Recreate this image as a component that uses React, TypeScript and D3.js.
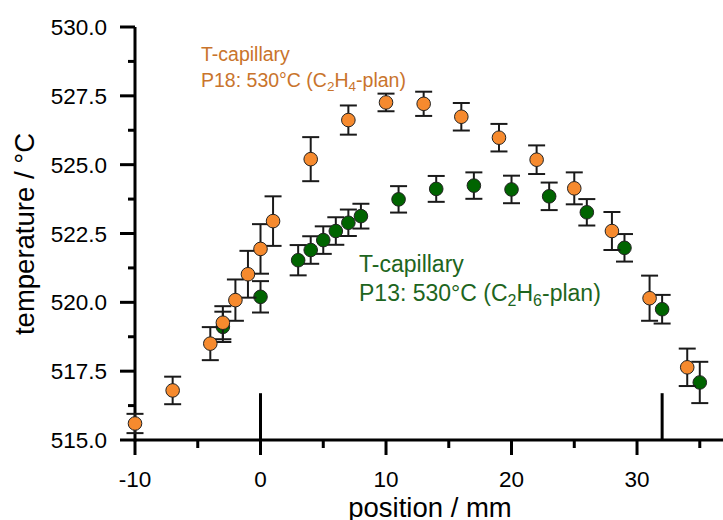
import React from "react";
import * as d3 from "d3";

const orangeX = [-10, -7, -4, -3, -2, -1, 0, 1, 4, 7, 10, 13, 16, 19, 22, 25, 28, 31, 34];
const orangeY = [515.6, 516.8, 518.5, 519.26, 520.08, 521.02, 521.94, 522.95, 525.2, 526.62, 527.26, 527.21, 526.74, 525.98, 525.18, 524.14, 522.59, 520.15, 517.64];
const orangeErr = [0.35, 0.5, 0.6, 0.6, 0.75, 0.85, 0.9, 0.9, 0.8, 0.53, 0.32, 0.44, 0.5, 0.5, 0.52, 0.58, 0.69, 0.82, 0.68];

const greenX = [-3, 0, 3, 4, 5, 6, 7, 8, 11, 14, 17, 20, 23, 26, 29, 32, 35];
const greenY = [519.11, 520.2, 521.53, 521.9, 522.26, 522.59, 522.89, 523.13, 523.74, 524.12, 524.24, 524.1, 523.85, 523.27, 521.98, 519.75, 517.09];
const greenErr = [0.55, 0.57, 0.55, 0.5, 0.5, 0.5, 0.48, 0.45, 0.48, 0.47, 0.48, 0.5, 0.5, 0.48, 0.5, 0.52, 0.75];

const xMajorTicks = [-10, 0, 10, 20, 30];
const xMinorTicks = [-5, 5, 15, 25, 35];
const yMajorTicks = [515, 517.5, 520, 522.5, 525, 527.5, 530];
const yMinorTicks = [516.25, 518.75, 521.25, 523.75, 526.25, 528.75];
const markerLines = [0, 32];

const W = 723;
const H = 520;
const x = d3.scaleLinear().domain([-10, 36.85]).range([135, 723]);
const y = d3.scaleLinear().domain([515, 530]).range([440, 27]);

const FONT = "'Liberation Sans', Arial, sans-serif";
const ORANGE_FILL = "#F68A2E";
const ORANGE_TEXT = "#C9742C";
const GREEN_FILL = "#006400";
const GREEN_TEXT = "#1D6520";

function Series({ xs, ys, es, fill }: { xs: number[]; ys: number[]; es: number[]; fill: string }) {
  const cap = 8.5;
  return (
    <g>
      {xs.map((xv, i) => {
        const cx = x(xv);
        const y1 = y(ys[i] + es[i]);
        const y2 = y(ys[i] - es[i]);
        return (
          <g key={i} stroke="#1a1a1a" strokeWidth={2}>
            <line x1={cx} x2={cx} y1={y1} y2={y2} />
            <line x1={cx - cap} x2={cx + cap} y1={y1} y2={y1} />
            <line x1={cx - cap} x2={cx + cap} y1={y2} y2={y2} />
          </g>
        );
      })}
      {xs.map((xv, i) => (
        <circle key={"c" + i} cx={x(xv)} cy={y(ys[i])} r={6.8} fill={fill} stroke="#222" strokeWidth={1} />
      ))}
    </g>
  );
}

export default function App() {
  return (
    <svg width={W} height={H} style={{ position: "absolute", left: 0, top: 0, background: "#fff" }} fontFamily={FONT}>
      <rect width={W} height={H} fill="#fff" />
      {markerLines.map((m) => (
        <line key={m} x1={x(m)} x2={x(m)} y1={y(515)} y2={y(516.7)} stroke="#000" strokeWidth={3} />
      ))}
      <line x1={x(-10)} x2={W} y1={y(515)} y2={y(515)} stroke="#000" strokeWidth={3} />
      <line x1={x(-10)} x2={x(-10)} y1={y(515) + 1.5} y2={y(530)} stroke="#000" strokeWidth={3} />
      {xMajorTicks.map((t) => (
        <g key={t}>
          <line x1={x(t)} x2={x(t)} y1={y(515)} y2={y(515) + 15} stroke="#000" strokeWidth={3} />
          <text x={x(t)} y={487} textAnchor="middle" fontSize={22.5} fill="#000">{t}</text>
        </g>
      ))}
      {xMinorTicks.map((t) => (
        <line key={t} x1={x(t)} x2={x(t)} y1={y(515)} y2={y(515) + 8} stroke="#000" strokeWidth={3} />
      ))}
      {yMajorTicks.map((t) => (
        <g key={t}>
          <line x1={x(-10) - 15} x2={x(-10)} y1={y(t)} y2={y(t)} stroke="#000" strokeWidth={3} />
          <text x={107} y={y(t)} dy="0.36em" textAnchor="end" fontSize={22.5} fill="#000">{t.toFixed(1)}</text>
        </g>
      ))}
      {yMinorTicks.map((t) => (
        <line key={t} x1={x(-10) - 7} x2={x(-10)} y1={y(t)} y2={y(t)} stroke="#000" strokeWidth={3} />
      ))}
      <text x={430} y={517} textAnchor="middle" fontSize={27.5} fill="#000">position / mm</text>
      <text transform={`translate(34, 234) rotate(-90)`} textAnchor="middle" fontSize={27.5} fill="#000">temperature / °C</text>

      <Series xs={greenX} ys={greenY} es={greenErr} fill={GREEN_FILL} />
      <Series xs={orangeX} ys={orangeY} es={orangeErr} fill={ORANGE_FILL} />

      <g fill={ORANGE_TEXT} fontSize={19.5}>
        <text x={201} y={61}>T-capillary</text>
        <text x={201} y={87}>
          P18: 530°C (C<tspan dy={4} fontSize={13.5}>2</tspan><tspan dy={-4}>H</tspan><tspan dy={4} fontSize={13.5}>4</tspan><tspan dy={-4}>-plan)</tspan>
        </text>
      </g>
      <g fill={GREEN_TEXT} fontSize={23}>
        <text x={359} y={272}>T-capillary</text>
        <text x={359} y={301}>
          P13: 530°C (C<tspan dy={5} fontSize={16}>2</tspan><tspan dy={-5}>H</tspan><tspan dy={5} fontSize={16}>6</tspan><tspan dy={-5}>-plan)</tspan>
        </text>
      </g>
    </svg>
  );
}
